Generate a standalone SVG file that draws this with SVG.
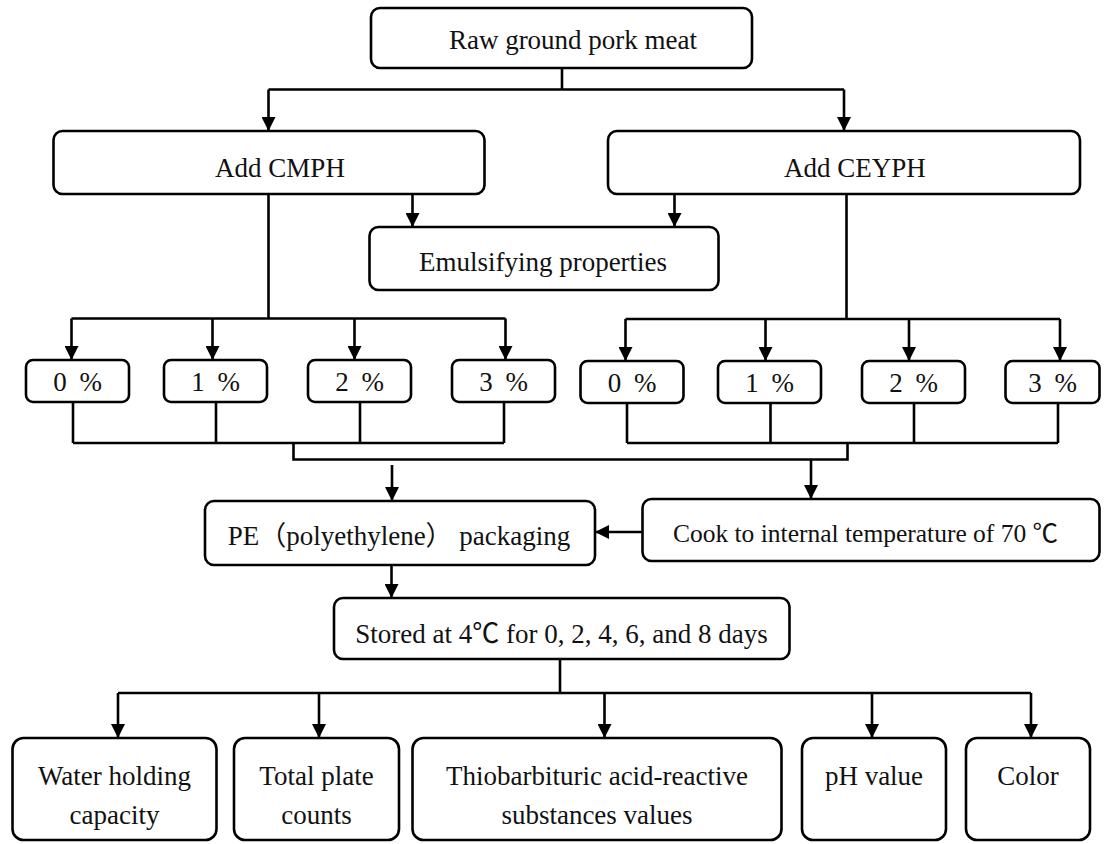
<svg xmlns="http://www.w3.org/2000/svg" width="1107" height="844" viewBox="0 0 1107 844">
<style>
.box{fill:#fff;stroke:#000;stroke-width:2.6}
.t{font-family:"Liberation Serif","Noto Sans CJK SC",serif;font-size:27px;fill:#111;text-anchor:middle}
.c{fill:none;stroke:#000;stroke-width:2.6}
.a{fill:none;stroke:#000;stroke-width:2.6;marker-end:url(#ah)}
</style>
<defs>
<marker id="ah" viewBox="0 0 14 14" markerUnits="userSpaceOnUse" markerWidth="14" markerHeight="14" refX="14" refY="7" orient="auto">
<path d="M0,0 L14,7 L0,14 z" fill="#000"/>
</marker>
</defs>
<rect width="1107" height="844" fill="#fff"/>
<g id="connectors">
<path class="c" d="M562 68 V89.5 M268.5 89.5 H844"/>
<path class="a" d="M268.5 89.5 V131"/>
<path class="a" d="M844 89.5 V131"/>
<path class="a" d="M412.5 194 V227"/>
<path class="a" d="M674.5 194 V227"/>
<path class="c" d="M268.5 194 V318.5 M71.5 318.5 H505.5"/>
<path class="a" d="M71.5 318.5 V360"/>
<path class="a" d="M212.5 318.5 V360"/>
<path class="a" d="M354.5 318.5 V360"/>
<path class="a" d="M505.5 318.5 V360"/>
<path class="c" d="M846.5 194 V319 M625.5 319 H1060"/>
<path class="a" d="M625.5 319 V361"/>
<path class="a" d="M765.5 319 V361"/>
<path class="a" d="M909 319 V361"/>
<path class="a" d="M1060 319 V361"/>
<path class="c" d="M73 402 V443 M216 402 V443 M360 402 V443 M504 402 V443 M73 443 H504"/>
<path class="c" d="M627 403 V443 M770.5 403 V443 M914 403 V443 M1058 403 V443 M627 443 H1058"/>
<path class="c" d="M293.5 443 V459.5 H847.5 V443"/>
<path class="a" d="M392 465 V501"/>
<path class="a" d="M811 459.5 V499"/>
<path class="a" d="M642.5 532 H595"/>
<path class="a" d="M391.5 565 V598"/>
<path class="c" d="M560 659 V693 M118 693 H1031"/>
<path class="a" d="M118 693 V738"/>
<path class="a" d="M319 693 V738"/>
<path class="a" d="M604.5 693 V738"/>
<path class="a" d="M872 693 V738"/>
<path class="a" d="M1031 693 V738"/>
</g>
<g id="raw"><rect class="box" x="371" y="8" width="381" height="60" rx="9"/><text class="t" x="573" y="49">Raw ground pork meat</text></g>
<g id="cmph"><rect class="box" x="53.5" y="131" width="431" height="63" rx="9"/><text class="t" x="280" y="177">Add CMPH</text></g>
<g id="ceyph"><rect class="box" x="608" y="131" width="472" height="63" rx="9"/><text class="t" x="855" y="177">Add CEYPH</text></g>
<g id="emul"><rect class="box" x="369.5" y="227" width="349" height="63" rx="9"/><text class="t" x="543" y="271">Emulsifying properties</text></g>
<g id="l0"><rect class="box" x="26" y="360" width="103" height="42" rx="7"/><text class="t" x="77.5" y="391">0 <tspan dx="6">%</tspan></text></g>
<g id="l1"><rect class="box" x="164" y="360" width="103" height="42" rx="7"/><text class="t" x="215.5" y="391">1 <tspan dx="6">%</tspan></text></g>
<g id="l2"><rect class="box" x="308" y="360" width="103" height="42" rx="7"/><text class="t" x="359.5" y="391">2 <tspan dx="6">%</tspan></text></g>
<g id="l3"><rect class="box" x="452" y="360" width="103" height="42" rx="7"/><text class="t" x="503.5" y="391">3 <tspan dx="6">%</tspan></text></g>
<g id="r0"><rect class="box" x="580.5" y="361" width="103" height="42" rx="7"/><text class="t" x="632" y="392">0 <tspan dx="6">%</tspan></text></g>
<g id="r1"><rect class="box" x="718" y="361" width="103" height="42" rx="7"/><text class="t" x="769.5" y="392">1 <tspan dx="6">%</tspan></text></g>
<g id="r2"><rect class="box" x="862" y="361" width="103" height="42" rx="7"/><text class="t" x="913.5" y="392">2 <tspan dx="6">%</tspan></text></g>
<g id="r3"><rect class="box" x="1005.5" y="361" width="94" height="42" rx="7"/><text class="t" x="1052.5" y="392">3 <tspan dx="6">%</tspan></text></g>
<g id="pe"><rect class="box" x="205" y="501" width="390" height="64" rx="9"/><text class="t" x="399" y="545">PE（polyethylene） packaging</text></g>
<g id="cook"><rect class="box" x="642.5" y="499" width="457" height="62" rx="9"/><text class="t" x="865.5" y="542" style="font-size:25.5px">Cook to internal temperature of 70 ℃</text></g>
<g id="stored"><rect class="box" x="334" y="598" width="455.5" height="61" rx="9"/><text class="t" x="561.5" y="643">Stored at 4℃ for 0, 2, 4, 6, and 8 days</text></g>
<g id="water"><rect class="box" x="12.5" y="738" width="204" height="102" rx="11"/><text class="t" x="114.5" y="785">Water holding</text><text class="t" x="114.5" y="824">capacity</text></g>
<g id="total"><rect class="box" x="234" y="738" width="165" height="102" rx="11"/><text class="t" x="316.5" y="785">Total plate</text><text class="t" x="316.5" y="824">counts</text></g>
<g id="tbars"><rect class="box" x="412.5" y="738" width="369" height="102" rx="11"/><text class="t" x="597" y="785">Thiobarbituric acid-reactive</text><text class="t" x="597" y="824">substances values</text></g>
<g id="ph"><rect class="box" x="802" y="738" width="144" height="102" rx="11"/><text class="t" x="874" y="785">pH value</text></g>
<g id="color"><rect class="box" x="966" y="738" width="124" height="102" rx="11"/><text class="t" x="1028" y="785">Color</text></g>
</svg>
